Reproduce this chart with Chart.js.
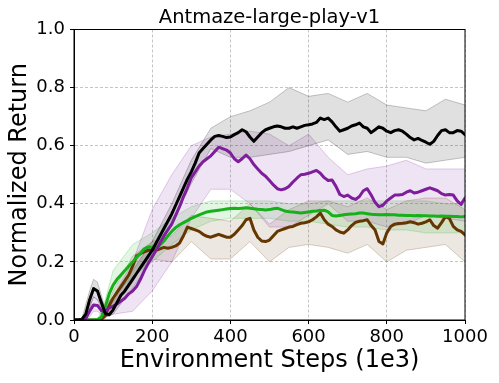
<!DOCTYPE html>
<html>
<head>
<meta charset="utf-8">
<script src="https://cdn.jsdelivr.net/npm/chart.js@4/dist/chart.umd.min.js"></script>
<style>
  html, body { margin: 0; padding: 0; background: #fff; }
  #wrap { width: 499px; height: 383px; }
</style>
</head>
<body>
<div id="wrap"><canvas id="myChart" width="499" height="383"></canvas></div>
<script>
// x positions of the mean curves (every 10k steps)
const steps = [];
for (let s = 0; s <= 1000; s += 10) steps.push(s);

const blackMean = [0, 0, 0.002, 0.02, 0.07, 0.108, 0.1, 0.06, 0.022, 0.018,
  0.035, 0.06, 0.085, 0.1, 0.12, 0.14, 0.16, 0.18, 0.2, 0.22,
  0.24, 0.265, 0.29, 0.315, 0.34, 0.365, 0.395, 0.425, 0.455, 0.485,
  0.51, 0.54, 0.575, 0.59, 0.605, 0.62, 0.632, 0.635, 0.632, 0.628,
  0.63, 0.638, 0.645, 0.655, 0.648, 0.63, 0.615, 0.63, 0.645, 0.655,
  0.66, 0.665, 0.668, 0.665, 0.66, 0.66, 0.665, 0.66, 0.665, 0.67,
  0.672, 0.675, 0.68, 0.695, 0.69, 0.695, 0.682, 0.665, 0.65, 0.655,
  0.66, 0.668, 0.672, 0.678, 0.665, 0.66, 0.645, 0.655, 0.665, 0.66,
  0.65, 0.645, 0.652, 0.655, 0.65, 0.64, 0.628, 0.62, 0.625, 0.618,
  0.612, 0.605, 0.615, 0.635, 0.652, 0.655, 0.645, 0.645, 0.652, 0.65, 0.638];

const purpleMean = [0, 0, 0, 0.005, 0.03, 0.052, 0.05, 0.032, 0.03, 0.042,
  0.048, 0.055, 0.065, 0.075, 0.09, 0.1, 0.115, 0.14, 0.17, 0.195,
  0.218, 0.24, 0.265, 0.29, 0.31, 0.33, 0.36, 0.39, 0.425, 0.455,
  0.49, 0.51, 0.53, 0.545, 0.555, 0.565, 0.58, 0.595, 0.59, 0.585,
  0.575, 0.555, 0.545, 0.555, 0.568, 0.555, 0.535, 0.52, 0.505, 0.495,
  0.48, 0.465, 0.452, 0.448, 0.452, 0.46, 0.475, 0.488, 0.5, 0.502,
  0.505, 0.51, 0.515, 0.505, 0.49, 0.48, 0.482, 0.46, 0.432, 0.425,
  0.43, 0.42, 0.415, 0.425, 0.445, 0.452, 0.43, 0.405, 0.39, 0.395,
  0.41, 0.42, 0.43, 0.43, 0.432, 0.44, 0.445, 0.437, 0.44, 0.445,
  0.45, 0.455, 0.45, 0.445, 0.435, 0.43, 0.432, 0.43, 0.41, 0.398, 0.42];

const greenMean = [0, 0, 0, 0, 0, 0, 0.002, 0.01, 0.045, 0.09,
  0.12, 0.14, 0.155, 0.17, 0.185, 0.2, 0.215, 0.23, 0.245, 0.252,
  0.25, 0.248, 0.258, 0.272, 0.29, 0.305, 0.318, 0.328, 0.335, 0.342,
  0.35, 0.356, 0.362, 0.367, 0.372, 0.374, 0.376, 0.378, 0.38, 0.382,
  0.384, 0.385, 0.384, 0.385, 0.386, 0.385, 0.383, 0.381, 0.38, 0.379,
  0.38, 0.383, 0.385, 0.38, 0.375, 0.373, 0.372, 0.37, 0.368, 0.37,
  0.372, 0.374, 0.375, 0.377, 0.378, 0.372, 0.36, 0.358, 0.36, 0.362,
  0.364, 0.365, 0.366, 0.368, 0.368, 0.366, 0.364, 0.363, 0.362, 0.362,
  0.363, 0.362, 0.362, 0.361, 0.361, 0.36, 0.36, 0.359, 0.36, 0.359,
  0.359, 0.358, 0.358, 0.357, 0.358, 0.357, 0.357, 0.356, 0.356, 0.355, 0.356];

const brownMean = [0, 0, 0, 0, 0, 0, 0, 0.002, 0.015, 0.05,
  0.075, 0.095, 0.115, 0.135, 0.155, 0.185, 0.22, 0.228, 0.235, 0.24,
  0.242, 0.24, 0.245, 0.25, 0.247, 0.25, 0.255, 0.265, 0.29, 0.32,
  0.315, 0.31, 0.305, 0.295, 0.288, 0.285, 0.29, 0.295, 0.29, 0.285,
  0.285, 0.295, 0.31, 0.325, 0.345, 0.35, 0.31, 0.285, 0.272, 0.27,
  0.275, 0.29, 0.305, 0.31, 0.315, 0.32, 0.322, 0.328, 0.333, 0.335,
  0.338, 0.345, 0.355, 0.368, 0.345, 0.33, 0.322, 0.31, 0.303, 0.299,
  0.31, 0.325, 0.336, 0.34, 0.342, 0.345, 0.325, 0.31, 0.27, 0.262,
  0.3, 0.322, 0.33, 0.332, 0.333, 0.335, 0.338, 0.335, 0.33, 0.333,
  0.338, 0.345, 0.325, 0.316, 0.335, 0.356, 0.35, 0.322, 0.31, 0.305, 0.293];

// x positions of the shaded bands
const bandSteps = [0, 20, 40, 50, 60, 80, 100, 150, 200, 250, 300, 350, 400,
  450, 500, 550, 600, 650, 700, 750, 800, 850, 900, 950, 1000];

const blackUpper = [0, 0.005, 0.1, 0.14, 0.13, 0.04, 0.06, 0.17, 0.27, 0.4, 0.55, 0.66, 0.7,
  0.72, 0.75, 0.8, 0.77, 0.78, 0.75, 0.78, 0.74, 0.73, 0.72, 0.76, 0.74];
const blackLower = [0, 0, 0.04, 0.08, 0.07, 0.01, 0.02, 0.11, 0.21, 0.33, 0.47, 0.59, 0.56,
  0.56, 0.57, 0.58, 0.6, 0.62, 0.57, 0.58, 0.56, 0.56, 0.54, 0.55, 0.56];

const purpleUpper = [0, 0, 0.05, 0.08, 0.07, 0.05, 0.08, 0.2, 0.38, 0.5, 0.6, 0.63, 0.64,
  0.65, 0.64, 0.6, 0.64, 0.56, 0.5, 0.52, 0.53, 0.55, 0.52, 0.52, 0.52];
const purpleLower = [0, 0, 0.01, 0.03, 0.03, 0.01, 0.02, 0.03, 0.1, 0.2, 0.35, 0.45, 0.45,
  0.4, 0.32, 0.32, 0.36, 0.4, 0.34, 0.34, 0.32, 0.33, 0.36, 0.35, 0.34];

const greenUpper = [0, 0, 0, 0, 0, 0.07, 0.17, 0.26, 0.3, 0.35, 0.39, 0.41, 0.41,
  0.41, 0.41, 0.4, 0.4, 0.41, 0.41, 0.41, 0.41, 0.41, 0.41, 0.4, 0.4];
const greenLower = [0, 0, 0, 0, 0, 0.02, 0.08, 0.15, 0.2, 0.26, 0.31, 0.34, 0.35,
  0.35, 0.35, 0.34, 0.34, 0.33, 0.32, 0.32, 0.31, 0.31, 0.3, 0.3, 0.3];

const brownUpper = [0, 0, 0, 0, 0, 0.03, 0.1, 0.22, 0.27, 0.29, 0.36, 0.35, 0.34,
  0.4, 0.33, 0.38, 0.41, 0.41, 0.39, 0.42, 0.38, 0.41, 0.42, 0.42, 0.38];
const brownLower = [0, 0, 0, 0, 0, 0.005, 0.05, 0.15, 0.21, 0.2, 0.27, 0.21, 0.21,
  0.27, 0.2, 0.25, 0.26, 0.25, 0.23, 0.26, 0.2, 0.24, 0.25, 0.26, 0.2];

const xTicks = [0, 200, 400, 600, 800, 1000];
const yTicks = [0, 0.2, 0.4, 0.6, 0.8, 1.0];

const FONT = "'DejaVu Sans', 'Liberation Sans', sans-serif";
const TITLE = 'Antmaze-large-play-v1';

function pts(xs, ys) {
  return xs.map((x, i) => ({ x: x, y: ys[i] }));
}

function band(upper, lower, rgb, order) {
  return [
    {
      data: pts(bandSteps, lower),
      borderColor: `rgba(${rgb}, 0.22)`,
      borderWidth: 1,
      backgroundColor: 'transparent',
      fill: false,
      order: order,
    },
    {
      data: pts(bandSteps, upper),
      borderColor: `rgba(${rgb}, 0.22)`,
      borderWidth: 1,
      backgroundColor: `rgba(${rgb}, 0.12)`,
      fill: '-1',
      order: order,
    },
  ];
}

function line(ys, color, order) {
  return {
    data: pts(steps, ys),
    borderColor: color,
    borderWidth: 3,
    fill: false,
    order: order,
  };
}

const datasets = [
  ...band(brownUpper, brownLower, '101, 55, 0', 20),
  ...band(greenUpper, greenLower, '21, 176, 26', 19),
  ...band(purpleUpper, purpleLower, '126, 30, 156', 18),
  ...band(blackUpper, blackLower, '0, 0, 0', 17),
  line(brownMean, '#653700', 4),
  line(greenMean, '#15b01a', 3),
  line(purpleMean, '#7e1e9c', 2),
  line(blackMean, '#000000', 1),
];

// full box around the axes + title centred over the plot area
const frame = {
  id: 'frame',
  afterDraw(chart) {
    const { ctx, chartArea: a } = chart;
    ctx.save();
    ctx.strokeStyle = '#000';
    ctx.lineWidth = 1;
    ctx.strokeRect(a.left, a.top, a.right - a.left, a.bottom - a.top);
    ctx.fillStyle = '#000';
    ctx.font = `19.5px ${FONT}`;
    ctx.textAlign = 'center';
    ctx.textBaseline = 'alphabetic';
    ctx.fillText(TITLE, (a.left + a.right) / 2, 23);
    ctx.restore();
  }
};

const ctx = document.getElementById('myChart').getContext('2d');

new Chart(ctx, {
  type: 'line',
  data: { datasets: datasets },
  options: {
    responsive: false,
    animation: false,
    events: [],
    layout: { padding: { left: 0, right: 34, top: 29.5, bottom: 0 } },
    elements: {
      point: { radius: 0 },
      line: { tension: 0, borderJoinStyle: 'round', borderCapStyle: 'round' },
    },
    plugins: {
      legend: { display: false },
      tooltip: { enabled: false },
      title: { display: false },
    },
    scales: {
      x: {
        type: 'linear',
        min: 0,
        max: 1000,
        afterBuildTicks(scale) { scale.ticks = xTicks.map(v => ({ value: v })); },
        afterFit(scale) { scale.height = 63; },
        ticks: {
          color: '#000',
          font: { family: FONT, size: 18 },
          padding: 3,
          maxRotation: 0,
          callback: v => String(v),
        },
        grid: {
          color: 'rgba(176, 176, 176, 0.75)',
          tickColor: '#000',
          tickLength: 4,
          tickBorderDash: [],
        },
        border: { display: true, color: '#000', width: 1, dash: [3, 2] },
        title: {
          display: true,
          text: 'Environment Steps (1e3)',
          color: '#000',
          font: { family: FONT, size: 24 },
          padding: { top: 0, bottom: 8 },
        },
      },
      y: {
        type: 'linear',
        min: 0,
        max: 1,
        afterBuildTicks(scale) { scale.ticks = yTicks.map(v => ({ value: v })); },
        afterFit(scale) { scale.width = 74; },
        ticks: {
          color: '#000',
          font: { family: FONT, size: 18 },
          padding: 5,
          callback: v => v.toFixed(1),
        },
        grid: {
          color: 'rgba(176, 176, 176, 0.75)',
          tickColor: '#000',
          tickLength: 4,
          tickBorderDash: [],
        },
        border: { display: true, color: '#000', width: 1, dash: [3, 2] },
        title: {
          display: true,
          text: 'Normalized Return',
          color: '#000',
          font: { family: FONT, size: 24 },
          padding: { top: 5, bottom: 0 },
        },
      },
    },
  },
  plugins: [frame],
});
</script>
</body>
</html>
